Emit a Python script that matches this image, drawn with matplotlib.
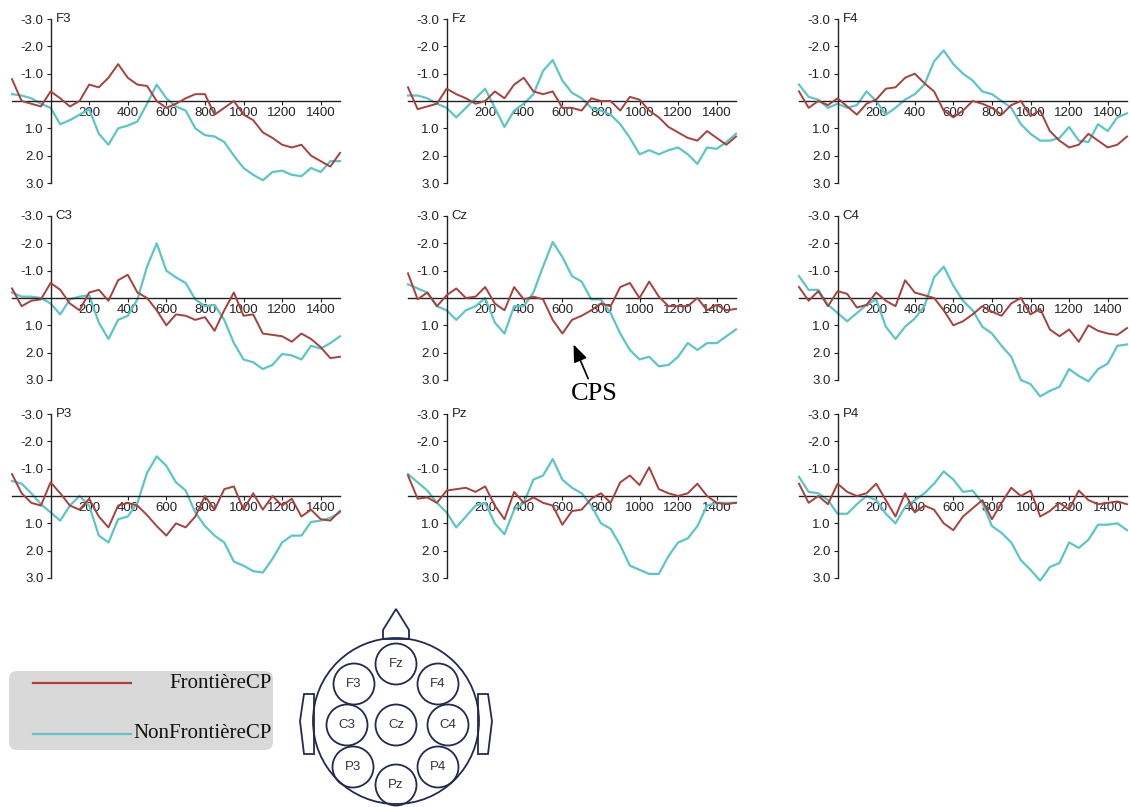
import numpy as np
import matplotlib.pyplot as plt
from matplotlib.patches import Circle, Polygon, FancyBboxPatch

# time axis (ms), one value every 50 ms
times = np.arange(-200, 1501, 50)

# amplitudes in microvolts (positive plotted downwards)
f3_front = [-0.8, 0.0, 0.1, 0.2, -0.35, -0.1, 0.2, 0.0, -0.6, -0.5, -0.85, -1.35, -0.85, -0.6, -0.55, 0.0, 0.25, 0.1,
            -0.1, -0.25, -0.25, 0.5, 0.25, 0.0, 0.5, 0.7, 1.15, 1.35, 1.6, 1.7, 1.6, 2.0, 2.2, 2.4, 1.9]
f3_non = [-0.25, -0.2, -0.1, 0.1, 0.25, 0.85, 0.7, 0.5, 0.3, 1.2, 1.6, 1.0, 0.9, 0.75, 0.1, -0.6, -0.1, 0.2,
          0.35, 1.0, 1.25, 1.3, 1.5, 2.0, 2.45, 2.7, 2.9, 2.6, 2.55, 2.7, 2.75, 2.45, 2.6, 2.2, 2.2]
fz_front = [-0.5, 0.3, 0.2, 0.1, -0.45, -0.25, -0.1, 0.1, 0.0, -0.35, -0.1, -0.6, -0.85, -0.35, -0.25, -0.35, 0.25, 0.25,
            0.35, -0.1, 0.0, 0.0, 0.35, -0.15, -0.05, 0.35, 0.6, 0.95, 1.15, 1.35, 1.45, 1.1, 1.35, 1.6, 1.3]
fz_non = [-0.2, -0.2, -0.1, 0.1, 0.25, 0.6, 0.25, -0.1, -0.45, 0.25, 0.95, 0.35, 0.1, -0.25, -1.1, -1.5, -0.75, -0.3,
          -0.1, 0.25, 0.35, 0.5, 0.85, 1.35, 1.95, 1.8, 1.95, 1.8, 1.7, 1.95, 2.3, 1.7, 1.75, 1.5, 1.2]
f4_front = [-0.35, 0.25, 0.0, 0.15, -0.1, 0.2, 0.5, 0.1, -0.05, -0.45, -0.5, -0.85, -1.0, -0.65, -0.35, 0.35, 0.6, 0.35,
            0.0, 0.1, 0.25, 0.5, 0.15, 0.0, 0.55, 0.35, 1.1, 1.45, 1.7, 1.6, 1.2, 1.45, 1.7, 1.6, 1.3]
f4_non = [-0.6, -0.15, -0.05, 0.25, 0.1, 0.25, 0.15, -0.35, 0.0, 0.5, 0.25, -0.05, -0.25, -0.6, -1.45, -1.85, -1.35, -1.0,
          -0.75, -0.35, -0.25, 0.0, 0.25, 0.85, 1.2, 1.45, 1.45, 1.35, 0.95, 1.45, 1.5, 0.85, 1.1, 0.6, 0.45]
c3_front = [-0.35, 0.3, 0.1, 0.05, -0.55, -0.3, 0.2, 0.45, -0.2, -0.3, 0.1, -0.65, -0.85, -0.2, 0.0, 0.45, 1.0, 0.6,
            0.65, 0.8, 0.7, 1.2, 0.45, -0.2, 0.65, 0.6, 1.3, 1.35, 1.4, 1.6, 1.3, 1.5, 1.8, 2.2, 2.15]
c3_non = [-0.2, -0.05, -0.05, 0.0, 0.2, 0.6, 0.05, -0.05, -0.1, 0.9, 1.5, 0.8, 0.65, 0.05, -1.15, -2.0, -1.0, -0.75,
          -0.55, 0.05, 0.3, 0.25, 0.8, 1.65, 2.25, 2.35, 2.6, 2.45, 2.05, 2.1, 2.25, 1.75, 1.85, 1.65, 1.4]
cz_front = [-0.9, 0.05, -0.2, 0.3, -0.1, -0.35, 0.0, -0.05, -0.4, 0.2, 0.45, -0.4, 0.05, -0.05, 0.05, 0.8, 1.3, 0.8,
            0.65, 0.45, 0.2, 0.3, -0.4, -0.55, 0.0, -0.6, -0.05, 0.3, 0.3, 0.3, 0.0, 0.45, 0.25, 0.45, 0.4]
cz_non = [-0.5, -0.35, -0.2, 0.3, 0.45, 0.8, 0.45, 0.3, 0.0, 0.9, 1.3, 0.3, 0.3, -0.2, -1.15, -2.05, -1.5, -0.8,
          -0.6, 0.05, 0.05, 0.55, 1.3, 1.9, 2.25, 2.15, 2.5, 2.45, 2.15, 1.65, 1.9, 1.65, 1.65, 1.4, 1.15]
c4_front = [-0.4, 0.1, -0.25, 0.3, -0.25, -0.15, 0.35, 0.25, -0.2, 0.1, 0.3, -0.65, -0.2, -0.1, 0.0, 0.45, 1.0, 0.85,
            0.6, 0.3, 0.5, 0.65, 0.2, 0.0, 0.6, 0.4, 1.15, 1.4, 1.15, 1.6, 1.0, 1.2, 1.3, 1.35, 1.1]
c4_non = [-0.8, -0.3, -0.3, 0.25, 0.55, 0.85, 0.55, 0.25, 0.05, 1.05, 1.5, 1.05, 0.75, 0.3, -0.75, -1.15, -0.45, 0.1,
          0.45, 1.05, 1.3, 1.75, 2.15, 3.0, 3.15, 3.6, 3.4, 3.25, 2.6, 2.85, 3.05, 2.6, 2.4, 1.75, 1.7]
p3_front = [-0.8, -0.1, 0.25, 0.35, -0.5, -0.1, 0.35, 0.5, 0.1, 0.75, 1.15, 0.35, 0.25, 0.35, 0.7, 1.1, 1.45, 1.0,
            1.15, 0.75, 0.0, 0.5, -0.25, -0.35, 0.5, -0.1, 0.5, 0.0, 0.35, 0.1, 0.75, 0.5, 0.85, 0.9, 0.55]
p3_non = [-0.55, -0.45, -0.1, 0.3, 0.6, 0.9, 0.35, 0.0, 0.35, 1.45, 1.7, 0.85, 0.75, 0.25, -0.85, -1.45, -1.1, -0.5,
          -0.2, 0.6, 1.1, 1.45, 1.7, 2.4, 2.55, 2.75, 2.8, 2.3, 1.7, 1.45, 1.45, 0.95, 0.9, 0.8, 0.6]
pz_front = [-0.75, 0.1, 0.05, 0.25, -0.2, -0.25, -0.3, -0.15, -0.35, 0.35, 0.85, -0.15, 0.25, 0.05, 0.25, 0.35, 1.05, 0.55,
            0.5, 0.1, -0.1, 0.25, -0.5, -0.75, -0.4, -1.05, -0.25, -0.1, 0.0, -0.1, -0.45, 0.0, 0.25, 0.3, 0.25]
pz_non = [-0.8, -0.5, -0.2, 0.25, 0.6, 1.15, 0.75, 0.35, 0.25, 1.0, 1.4, 0.5, 0.25, -0.6, -0.75, -1.35, -0.6, -0.3,
          -0.1, 0.35, 1.0, 1.2, 1.8, 2.55, 2.7, 2.85, 2.85, 2.2, 1.7, 1.55, 1.1, 0.35, 0.25, 0.25, 0.25]
p4_front = [-0.45, 0.25, 0.0, 0.3, -0.45, -0.15, 0.0, -0.1, -0.45, 0.15, 0.75, -0.1, 0.6, 0.35, 0.5, 1.0, 1.25, 0.75,
            0.45, 0.15, 0.85, 0.25, -0.3, 0.0, -0.2, 0.75, 0.55, 0.25, 0.5, -0.2, 0.15, 0.3, 0.25, 0.2, 0.3]
p4_non = [-0.7, -0.15, -0.1, 0.15, 0.65, 0.65, 0.3, 0.0, 0.15, 0.65, 1.0, 0.4, 0.15, -0.1, -0.45, -0.9, -0.6, -0.15,
          -0.2, 0.25, 1.1, 1.35, 1.7, 2.35, 2.7, 3.1, 2.6, 2.45, 1.7, 1.9, 1.6, 1.05, 1.05, 1.0, 1.25]

channels = ["F3", "Fz", "F4", "C3", "Cz", "C4", "P3", "Pz", "P4"]
front_series = [f3_front, fz_front, f4_front, c3_front, cz_front, c4_front, p3_front, pz_front, p4_front]
non_series = [f3_non, fz_non, f4_non, c3_non, cz_non, c4_non, p3_non, pz_non, p4_non]

x_ticks = [200, 400, 600, 800, 1000, 1200, 1400]
y_ticks = [-3, -2, -1, 1, 2, 3]
y_tick_labels = ["-3.0", "-2.0", "-1.0", "1.0", "2.0", "3.0"]
legend_labels = ["FrontièreCP", "NonFrontièreCP"]

red = "#a8403c"
cyan = "#5cc6c6"
navy = "#232a52"
serif = ["Liberation Serif", "DejaVu Serif"]

W, H = 1130, 807
fig = plt.figure(figsize=(W / 100, H / 100), dpi=100)
plt.rcParams["font.family"] = ["Liberation Sans", "DejaVu Sans"]

col_left = [12, 408, 799]
row_top = [19, 216, 414]
panel_w, panel_h = 328, 164

axes = []
for i, ch in enumerate(channels):
    r, c = divmod(i, 3)
    ax = fig.add_axes([col_left[c] / W, 1 - (row_top[r] + panel_h) / H, panel_w / W, panel_h / H])
    ax.plot(times, front_series[i], color=red, lw=1.4, clip_on=False, zorder=3, solid_joinstyle="round")
    ax.plot(times, non_series[i], color=cyan, lw=1.6, clip_on=False, zorder=2, solid_joinstyle="round")
    ax.set_xlim(-200, 1500)
    ax.set_ylim(3, -3)
    ax.patch.set_visible(False)
    for s in ["top", "right"]:
        ax.spines[s].set_visible(False)
    ax.spines["left"].set_position(("data", 0))
    ax.spines["left"].set_bounds(-3, 3)
    ax.spines["bottom"].set_position(("data", 0))
    for s in ["left", "bottom"]:
        ax.spines[s].set_color("#222222")
        ax.spines[s].set_linewidth(1.0)
    ax.set_xticks(x_ticks)
    ax.set_xticklabels([str(t) for t in x_ticks])
    ax.set_yticks(y_ticks)
    ax.set_yticklabels(y_tick_labels)
    ax.tick_params(axis="x", length=3, width=0.8, pad=1, labelsize=9.5, colors="#222222")
    ax.tick_params(axis="y", length=3, width=0.8, pad=2, labelsize=9.5, colors="#222222")
    ax.text(25, -3, ch, fontsize=9.5, ha="left", va="center", color="#222222")
    axes.append(ax)

# CPS annotation on Cz
axes[4].annotate("CPS", xy=(658, 1.7), xytext=(767, 3.5), ha="center", va="center",
                 fontsize=19, family=serif, annotation_clip=False,
                 arrowprops=dict(arrowstyle="-|>,head_length=0.55,head_width=0.22", color="black", lw=1.2,
                                 shrinkA=1, shrinkB=0))

# overlay in pixel units for legend and electrode map
ov = fig.add_axes([0, 0, 1, 1])
ov.set_xlim(0, W)
ov.set_ylim(H, 0)
ov.axis("off")
ov.patch.set_visible(False)

ov.add_patch(FancyBboxPatch((9, 671), 264, 79, boxstyle="round,pad=0,rounding_size=8",
                            facecolor="#d9d9d9", edgecolor="none"))
for y, lab, col in zip([683, 734], legend_labels, [red, cyan]):
    ov.plot([33, 131], [y, y], color=col, lw=1.6)
    ov.text(272, y, lab, ha="right", va="center", fontsize=15, family=serif, color="#111111")

# head
hx, hy, hr = 396, 721, 83
ov.add_patch(Circle((hx, hy), hr, fill=False, edgecolor=navy, lw=1.3))
ov.add_patch(Polygon([(hx - 13, hy - hr + 1), (hx - 13, hy - hr - 8), (hx, hy - hr - 29),
                      (hx + 13, hy - hr - 8), (hx + 13, hy - hr + 1)], closed=True, fill=False,
                     edgecolor=navy, lw=1.3))
for side in (-1, 1):
    ex = hx + side * hr
    ov.add_patch(Polygon([(ex - side * 1, hy - 27), (ex + side * 9, hy - 27), (ex + side * 13, hy),
                          (ex + side * 9, hy + 33), (ex - side * 1, hy + 33)], closed=True,
                         fill=False, edgecolor=navy, lw=1.3))

electrode_pos = {"Fz": (0, -57), "F3": (-42, -37), "F4": (42, -37), "C3": (-49, 4), "Cz": (0, 4),
                 "C4": (52, 4), "P3": (-43, 46), "Pz": (0, 64), "P4": (42, 46)}
for name, (dx, dy) in electrode_pos.items():
    ov.add_patch(Circle((hx + dx, hy + dy), 20.5, fill=False, edgecolor=navy, lw=1.3))
    ov.text(hx + dx, hy + dy, name, ha="center", va="center", fontsize=9.5, color="#333333")

fig.savefig("out.png", dpi=100)
